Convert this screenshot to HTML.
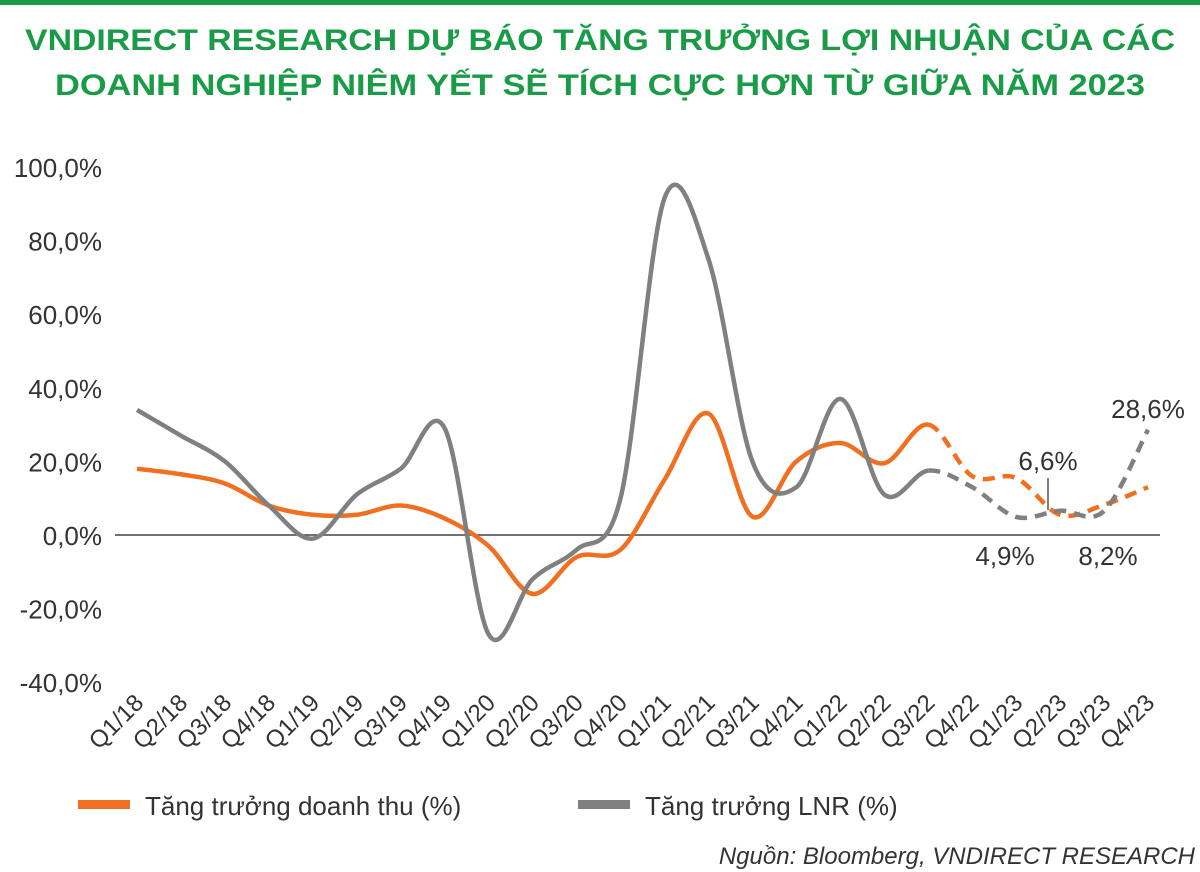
<!DOCTYPE html>
<html><head><meta charset="utf-8"><style>
body{margin:0;background:#fff;}
svg{display:block;font-family:"Liberation Sans","DejaVu Sans",sans-serif;}
</style></head><body>
<svg id="c" width="1200" height="872" viewBox="0 0 1200 872">
<rect x="0" y="0" width="1200" height="5" fill="#1a9b48"/>
<text x="600" y="50" text-anchor="middle" font-weight="bold" font-size="30" fill="#1a9b48" textLength="1150" lengthAdjust="spacingAndGlyphs">VNDIRECT RESEARCH DỰ BÁO TĂNG TRƯỞNG LỢI NHUẬN CỦA CÁC</text>
<text x="600" y="95" text-anchor="middle" font-weight="bold" font-size="30" fill="#1a9b48" textLength="1090" lengthAdjust="spacingAndGlyphs">DOANH NGHIỆP NIÊM YẾT SẼ TÍCH CỰC HƠN TỪ GIỮA NĂM 2023</text>
<g id="axes"></g>
<g id="series"></g>
<g id="ann" font-size="26" fill="#333">
<text x="1148" y="418" text-anchor="middle">28,6%</text>
<text x="1048" y="470" text-anchor="middle">6,6%</text>
<text x="1005" y="565" text-anchor="middle">4,9%</text>
<text x="1108" y="565" text-anchor="middle">8,2%</text>
<line x1="1048" y1="478" x2="1048" y2="510" stroke="#555" stroke-width="1.5"/>
</g>
<g>
<rect x="78" y="800" width="52" height="9" fill="#f07021"/>
<text x="145" y="815" font-size="26" fill="#333">Tăng trưởng doanh thu (%)</text>
<rect x="578" y="800" width="52" height="9" fill="#808080"/>
<text x="645" y="815" font-size="26" fill="#333">Tăng trưởng LNR (%)</text>
</g>
<text x="1195" y="864" text-anchor="end" font-size="24" font-style="italic" fill="#333">Nguồn: Bloomberg, VNDIRECT RESEARCH</text>
</svg>
<script>
const categories=["Q1/18","Q2/18","Q3/18","Q4/18","Q1/19","Q2/19","Q3/19","Q4/19","Q1/20","Q2/20","Q3/20","Q4/20","Q1/21","Q2/21","Q3/21","Q4/21","Q1/22","Q2/22","Q3/22","Q4/22","Q1/23","Q2/23","Q3/23","Q4/23"];
const revenue=[18,16.5,14,8,5.5,5.5,8,4.5,-3,-16,-6,-4,15,33,5,20,25,19.5,30,16,15.5,5.5,8.2,13];
const profit=[34,27,20,8,-1,11,18,29,-27,-12,-4,10,91.5,75,20,13,37,11,17.5,13,4.9,6.6,6.5,28.6];
const yTicks=[100,80,60,40,20,0,-20,-40];
const yTickLabels=["100,0%","80,0%","60,0%","40,0%","20,0%","0,0%","-20,0%","-40,0%"];
const forecastStart=18;
const NS="http://www.w3.org/2000/svg";
const x=i=>137+i*(1148-137)/(categories.length-1);
const y=v=>535-v*3.68;
const axes=document.getElementById('axes'),ser=document.getElementById('series');
function mk(tag,attrs,parent){const e=document.createElementNS(NS,tag);for(const k in attrs)e.setAttribute(k,attrs[k]);parent.appendChild(e);return e;}
yTicks.forEach((t,i)=>{const e=mk('text',{x:102,y:y(t)+10,'text-anchor':'end','font-size':26,fill:'#333'},axes);e.textContent=yTickLabels[i];

});
const zl=mk('line',{x1:115,x2:1160,y1:y(0),y2:y(0),stroke:'#444','stroke-width':1.5},axes);


categories.forEach((c,i)=>{const e=mk('text',{transform:`translate(${x(i)+8},${y(-40)+22}) rotate(-45)`,'text-anchor':'end','font-size':24,fill:'#333'},axes);e.textContent=c;

});
function seg(vals,a,b){let d=`M${x(a)},${y(vals[a])}`;for(let i=a;i<b;i++){const p0=[x(Math.max(i-1,0)),y(vals[Math.max(i-1,0)])],p1=[x(i),y(vals[i])],p2=[x(i+1),y(vals[i+1])],p3=[x(Math.min(i+2,vals.length-1)),y(vals[Math.min(i+2,vals.length-1)])];
d+=` C${p1[0]+(p2[0]-p0[0])/6},${p1[1]+(p2[1]-p0[1])/6} ${p2[0]-(p3[0]-p1[0])/6},${p2[1]-(p3[1]-p1[1])/6} ${p2[0]},${p2[1]}`;}return d;}
function draw(vals,color,name){const n=vals.length-1;
const s=mk('path',{d:seg(vals,0,forecastStart),fill:'none',stroke:color,'stroke-width':4.5},ser);


const f=mk('path',{d:seg(vals,forecastStart,n),fill:'none',stroke:color,'stroke-width':4.5,'stroke-dasharray':'12 8'},ser);

}
draw(revenue,'#f07021','revenue');
draw(profit,'#808080','profit');
</script>
</body></html>
